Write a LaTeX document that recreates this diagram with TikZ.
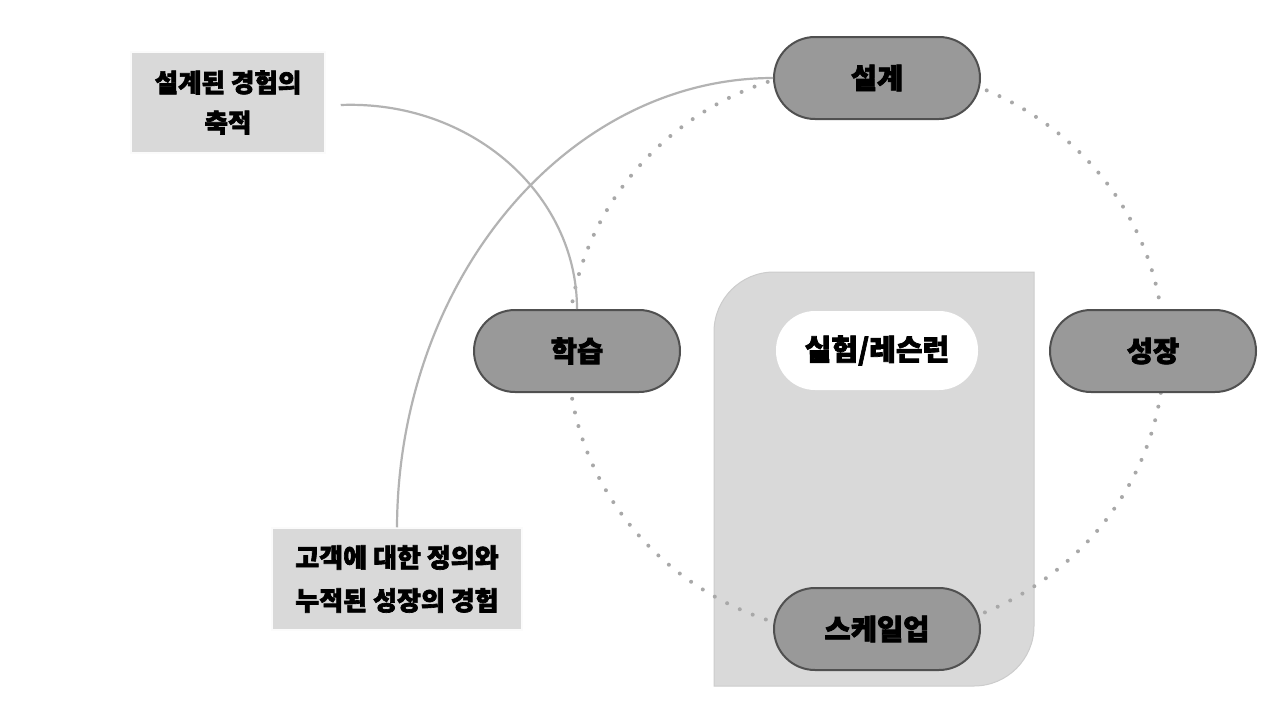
\documentclass[tikz,border=0pt]{standalone}
\usepackage{fontspec}
\setmainfont{Noto Sans CJK KR}[BoldFeatures={FakeBold=2.5}]
\definecolor{pillfill}{HTML}{999999}
\definecolor{pilldraw}{HTML}{505050}
\definecolor{panel}{HTML}{D9D9D9}
\definecolor{panelline}{HTML}{CCCCCC}
\definecolor{link}{HTML}{B3B3B3}
\definecolor{dots}{HTML}{A8A8A8}
\begin{document}
\begin{tikzpicture}[x=1pt,y=-1pt,
  pill/.style={draw=pilldraw, fill=pillfill, line width=2pt, rounded corners=41pt,
    minimum width=206pt, minimum height=82pt, inner sep=0pt,
    font=\fontsize{28.5}{32}\selectfont\bfseries},
  whitepill/.style={fill=white, rounded corners=39pt, minimum width=202pt, minimum height=79pt,
    inner sep=0pt, font=\fontsize{29}{32}\selectfont\bfseries},
  note/.style={fill=panel, draw=white!90!panel, line width=1.5pt, inner sep=0pt, align=center},
  link/.style={draw=link, line width=2.2pt},
  dotring/.style={draw=dots, line width=4pt, line cap=round, dash pattern=on 0pt off 14pt}
]
\useasboundingbox[fill=white] (0,0) rectangle (1280,720);
% panel
\draw[fill=panel, draw=panelline, line width=1pt]
  (714,686) -- (714,332) arc[start angle=180, end angle=90, x radius=60, y radius=-60]
  -- (1034,272) -- (1034,626) arc[start angle=0, end angle=-90, x radius=60, y radius=-60] -- cycle;
% dotted ring
\draw[dotring] (866,351) ellipse [x radius=298, y radius=285];
% nodes
\node[pill] (design) at (877,78) {설계};
\node[pill] (learn) at (577,351) {학습};
\node[pill] (grow) at (1153,351) {성장};
\node[pill] (scale) at (877,629) {스케일업};
\node[whitepill] (exp) at (877,350.5) {실험/레슨런};
\node[note, minimum width=194pt, minimum height=101pt,
  font=\fontsize{25.5}{40}\selectfont\bfseries] (n1) at (228,102.5) {설계된 경험의\\축적};
\node[note, minimum width=250pt, minimum height=102pt,
  font=\fontsize{26}{43}\selectfont\bfseries] (n2) at (397,579) {고객에 대한 정의와\\누적된 성장의 경험};
% connectors
\draw[link] ([xshift=15pt,yshift=-2.5pt]n1.east) .. controls (471,100) and (577,194) .. (learn.north);
\draw[link] (n2.north) .. controls (398,280) and (567,78) .. (design.west);
\end{tikzpicture}
\end{document}
